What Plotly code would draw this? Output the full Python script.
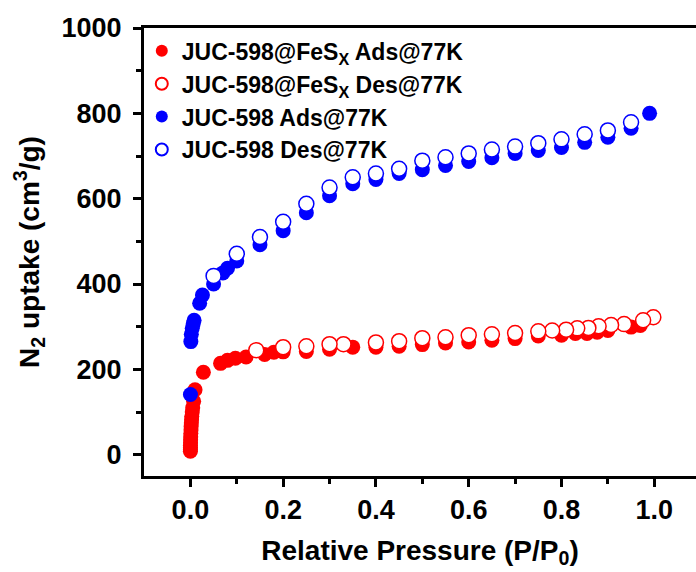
import plotly.graph_objects as go

# JUC-598@FeSx adsorption
fes_ads_x = [0.00002, 0.00005, 0.0001, 0.0002, 0.0003, 0.0005, 0.0007, 0.001, 0.0013, 0.0016,
             0.002, 0.0025, 0.003, 0.004, 0.005, 0.007, 0.01, 0.028, 0.065, 0.08, 0.097, 0.12,
             0.16, 0.18, 0.2, 0.25, 0.3, 0.35, 0.4, 0.45, 0.5, 0.55, 0.6, 0.65, 0.7, 0.75, 0.8,
             0.83, 0.855, 0.877, 0.9, 0.95, 0.97]
fes_ads_y = [8, 12, 17, 22, 28, 35, 42, 50, 58, 66, 74, 82, 90, 100, 110, 125, 152, 193, 214, 221,
             226, 229, 235, 240, 241, 242, 247, 252, 252, 254, 258, 262, 264, 268, 272, 278, 280,
             284, 284, 287, 291, 299, 303]
# JUC-598@FeSx desorption
fes_des_x = [0.998, 0.976, 0.935, 0.907, 0.88, 0.858, 0.834, 0.81, 0.78, 0.75, 0.70, 0.65, 0.60,
             0.55, 0.50, 0.45, 0.40, 0.33, 0.30, 0.25, 0.20, 0.142]
fes_des_y = [322, 315, 306, 304, 301, 297, 296, 293, 291, 289, 285, 282, 280, 275, 273, 266, 263,
             259, 259, 254, 252, 245]
# JUC-598 adsorption
juc_ads_x = [0.0001, 0.001, 0.002, 0.004, 0.006, 0.008, 0.02, 0.026, 0.05, 0.07, 0.08, 0.10, 0.15,
             0.2, 0.25, 0.3, 0.35, 0.4, 0.45, 0.5, 0.55, 0.6, 0.65, 0.7, 0.75, 0.8, 0.85, 0.9,
             0.95, 0.99]
juc_ads_y = [141, 265, 282, 296, 306, 315, 355, 374, 400, 426, 437, 454, 492, 525, 567, 607, 635,
             645, 659, 668, 678, 687, 696, 706, 713, 720, 732, 744, 765, 800]
# JUC-598 desorption
juc_des_x = [0.95, 0.9, 0.85, 0.8, 0.75, 0.7, 0.65, 0.6, 0.55, 0.5, 0.45, 0.4, 0.35, 0.3, 0.25,
             0.2, 0.15, 0.1, 0.05]
juc_des_y = [779, 760, 751, 739, 730, 722, 715, 706, 697, 689, 670, 659, 650, 626, 588, 546, 510,
             471, 419]

names = ["JUC-598@FeS<sub>X</sub> Ads@77K", "JUC-598@FeS<sub>X</sub> Des@77K",
         "JUC-598 Ads@77K", "JUC-598 Des@77K"]

RED = "#ff0000"
BLUE = "#0000ff"
FONT = "Liberation Sans"
MS = 15

fig = go.Figure()
fig.add_trace(go.Scatter(x=fes_ads_x, y=fes_ads_y, mode="markers", name=names[0],
                         marker=dict(size=MS, color=RED, line=dict(width=0))))
fig.add_trace(go.Scatter(x=fes_des_x, y=fes_des_y, mode="markers", name=names[1],
                         marker=dict(size=MS, color="white", line=dict(width=1.5, color=RED))))
fig.add_trace(go.Scatter(x=juc_ads_x, y=juc_ads_y, mode="markers", name=names[2],
                         marker=dict(size=MS, color=BLUE, line=dict(width=0))))
fig.add_trace(go.Scatter(x=juc_des_x, y=juc_des_y, mode="markers", name=names[3],
                         marker=dict(size=MS, color="white", line=dict(width=1.5, color=BLUE))))

fig.update_layout(
    width=696, height=572,
    margin=dict(l=144, r=0, t=28, b=96),
    paper_bgcolor="white", plot_bgcolor="white",
    font=dict(family=FONT, color="black", size=26, weight="bold"),
    showlegend=True,
    legend=dict(x=-0.004, y=0.997, xanchor="left", yanchor="top",
                bgcolor="rgba(0,0,0,0)", font=dict(size=23, family=FONT, weight="bold"),
                itemsizing="constant", tracegroupgap=0),
    xaxis=dict(range=[-0.1, 1.09], tickvals=[0, 0.2, 0.4, 0.6, 0.8, 1.0], tickformat=".1f",
               ticks="outside", ticklen=8, tickwidth=3, tickcolor="black",
               minor=dict(tickvals=[0.1, 0.3, 0.5, 0.7, 0.9], ticks="outside", ticklen=5, tickwidth=3,
                          tickcolor="black"),
               showline=True, linewidth=3, linecolor="black", mirror=True,
               showgrid=False, zeroline=False,
               tickfont=dict(size=27, family=FONT, weight="bold"),
               title=dict(text="Relative Pressure (P/P<sub>0</sub>)", standoff=16,
                          font=dict(size=28, family=FONT, weight="bold"))),
    yaxis=dict(range=[-50, 1000], tickvals=[0, 200, 400, 600, 800, 1000],
               ticks="outside", ticklen=8, tickwidth=3, tickcolor="black",
               ticklabelstandoff=6,
               minor=dict(tickvals=[100, 300, 500, 700, 900], ticks="outside", ticklen=5, tickwidth=3,
                          tickcolor="black"),
               showline=True, linewidth=3, linecolor="black", mirror=False,
               showgrid=False, zeroline=False,
               tickfont=dict(size=27, family=FONT, weight="bold"),
               title=dict(text="N<sub>2</sub> uptake (cm<sup>3</sup>/g)", standoff=14,
                          font=dict(size=28, family=FONT, weight="bold"))),
)

fig.write_html("out.html")
